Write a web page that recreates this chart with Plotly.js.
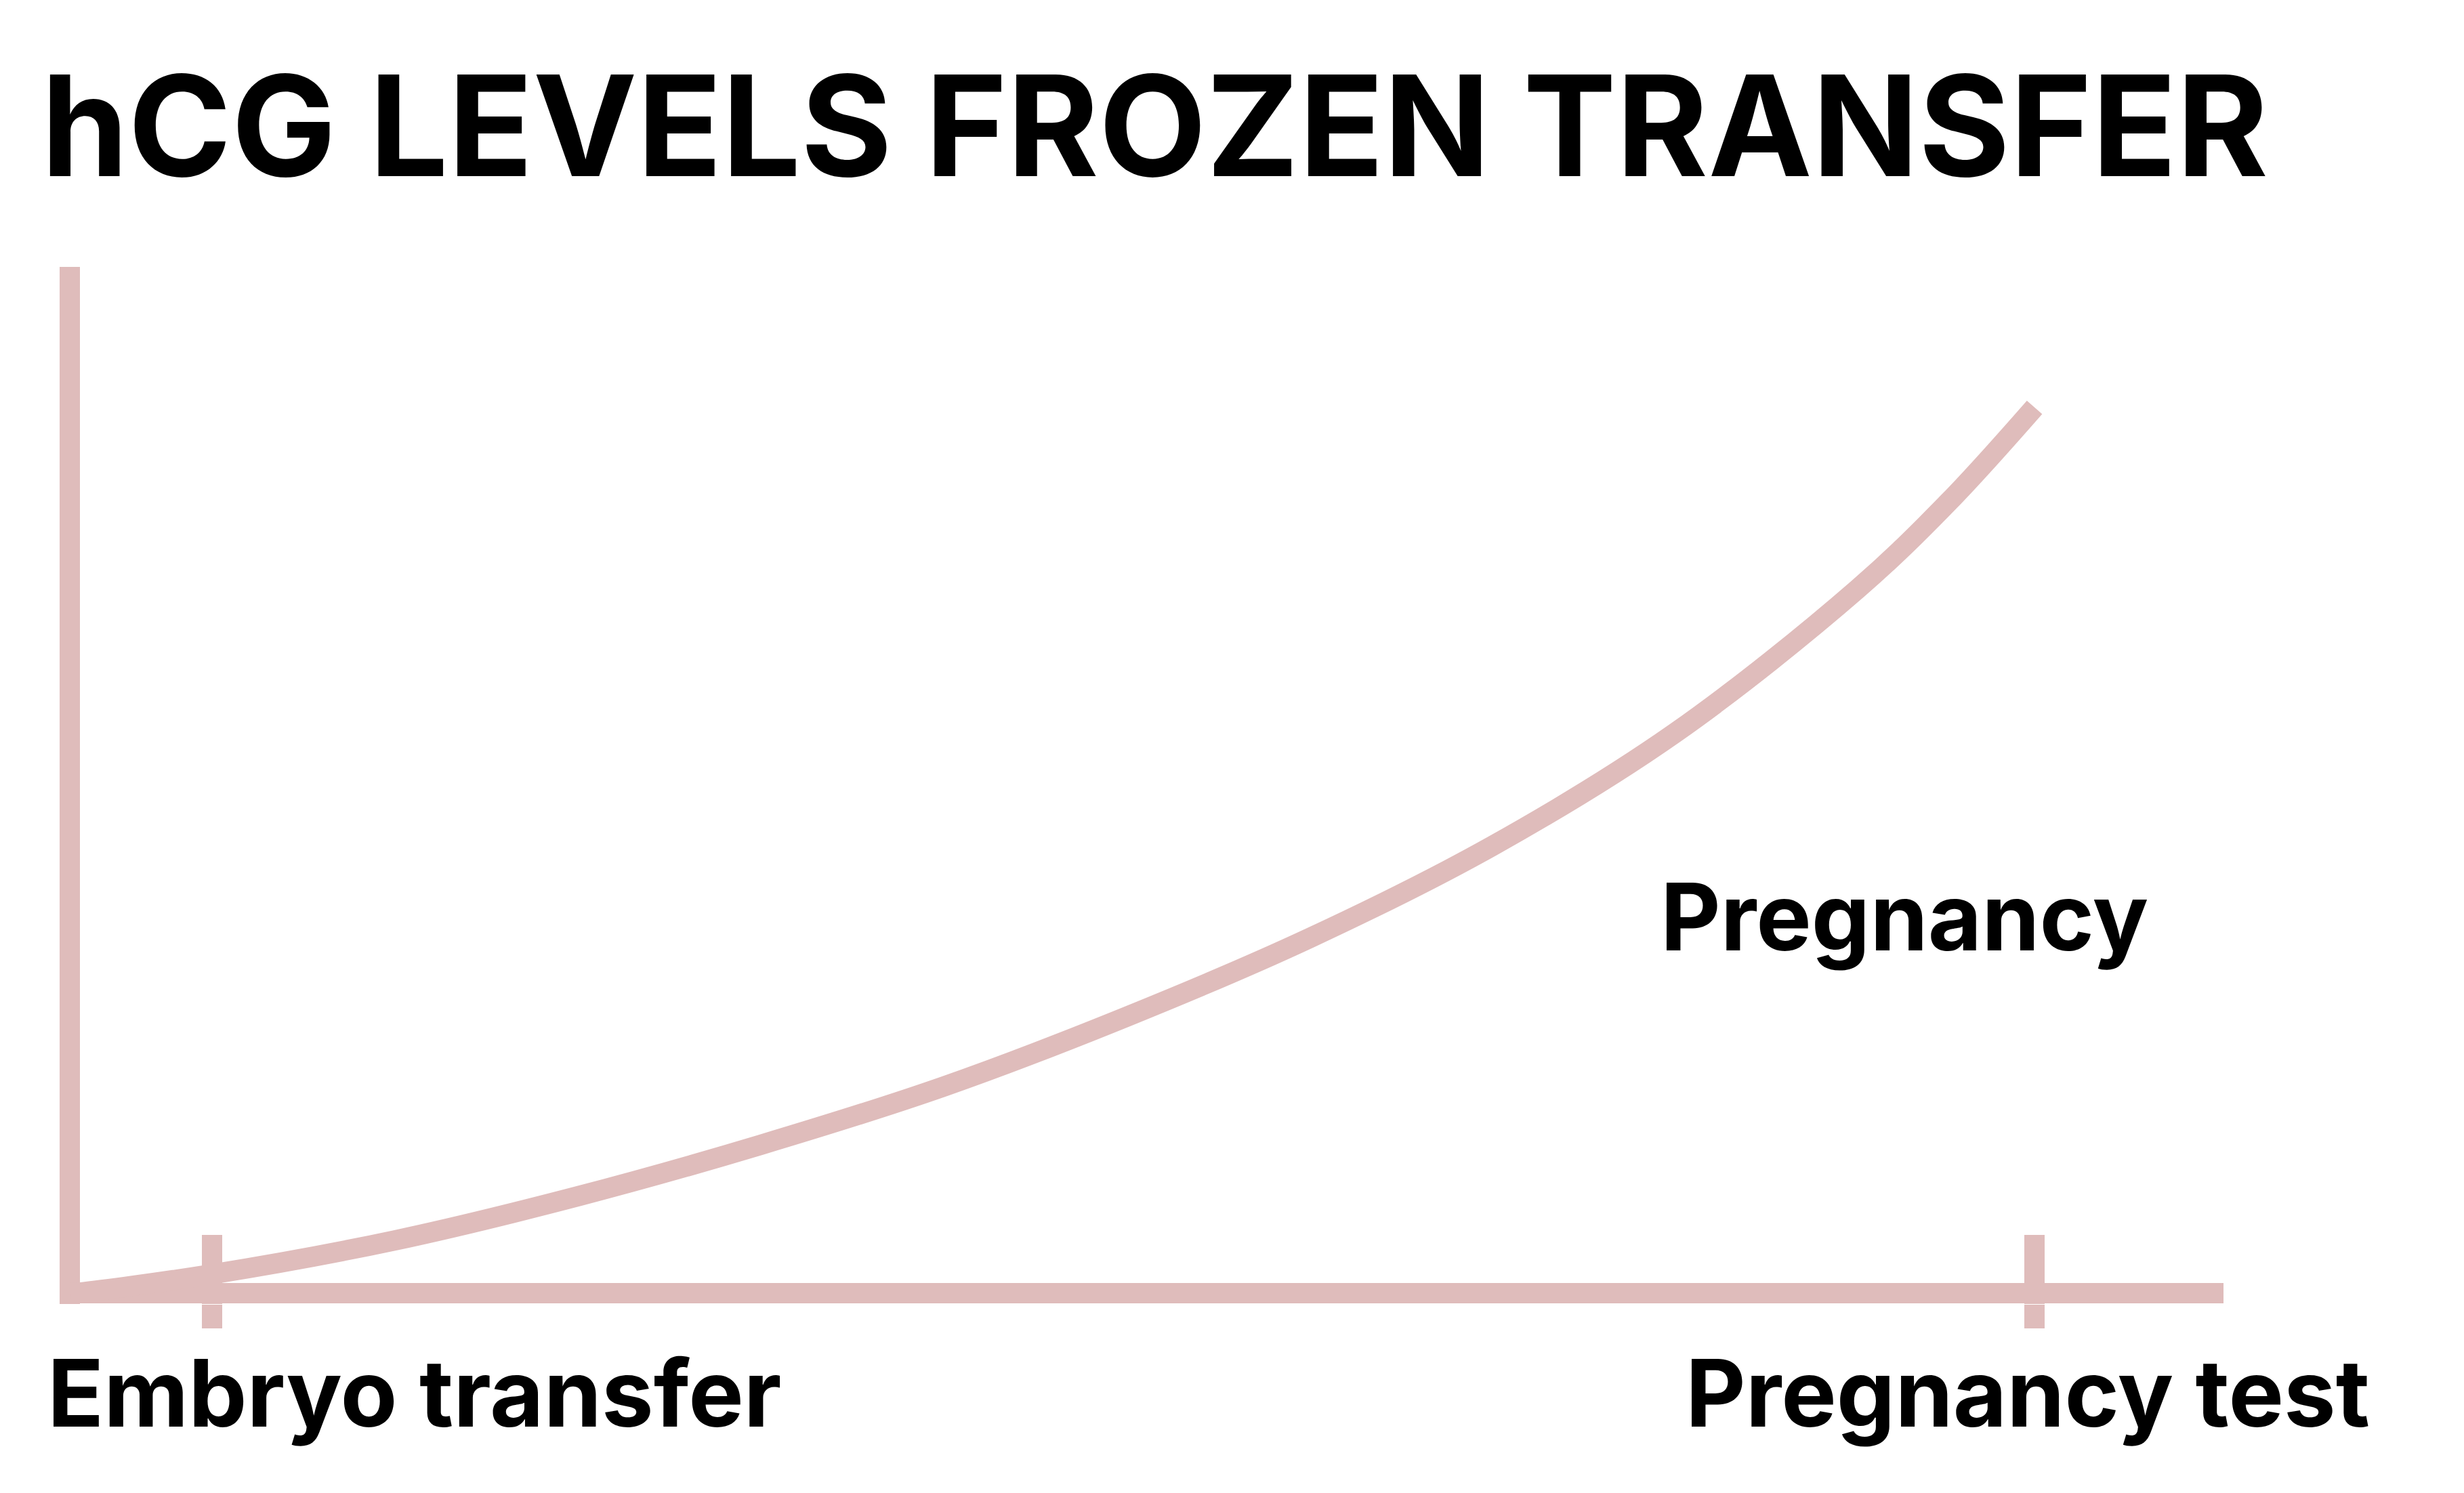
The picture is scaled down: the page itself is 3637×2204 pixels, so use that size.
<!DOCTYPE html>
<html>
<head>
<meta charset="utf-8">
<script src="https://cdn.plot.ly/plotly-3.0.1.min.js"></script>
<style>
  html, body { margin: 0; padding: 0; background: #ffffff; }
  #chart { width: 3637px; height: 2204px; }
</style>
</head>
<body>
<div id="chart"></div>
<script>
// ---- data (arbitrary time units on x, relative hCG level on y) ----
const curveTime  = [0, 0.5, 7, 16, 25, 34, 43, 52, 61, 70, 79, 88, 92.5, 96.7];
const curveLevel = [0, 0.06, 1.76, 4.89, 8.97, 13.73, 19.12, 25.58, 32.85, 41.38, 51.85, 65.2, 73.3, 82.0];
const tickTimes  = [7, 96.7];
const tickLabels = ["Embryo transfer", "Pregnancy test"];
const curveLabel = "Pregnancy";
const chartTitle = "hCG LEVELS FROZEN TRANSFER";

const PINK = "#dfbcbb";
const FONT = "Inter";
const LABEL_SIZE = 137;

const traces = [
  {
    x: curveTime,
    y: curveLevel,
    type: "scatter",
    mode: "lines",
    line: { color: PINK, width: 30, shape: "spline", smoothing: 1 },
    hoverinfo: "skip",
    showlegend: false,
    cliponaxis: false
  },
  // invisible trace to instantiate the overlaying tick axis
  {
    x: tickTimes, y: [0, 0], xaxis: "x2", yaxis: "y",
    type: "scatter", mode: "markers",
    marker: { opacity: 0, size: 1 },
    hoverinfo: "skip", showlegend: false
  }
];

const layout = {
  width: 3637,
  height: 2204,
  autosize: false,
  paper_bgcolor: "#ffffff",
  plot_bgcolor: "#ffffff",
  margin: { l: 88, r: 355, t: 394, b: 279, pad: 0 },
  showlegend: false,
  title: {
    text: chartTitle,
    font: { family: FONT, size: 206, weight: 700, color: "#000000" },
    xref: "container", x: 61 / 3637, xanchor: "left",
    yref: "container", y: 1 - 116 / 2204, yanchor: "top"
  },
  xaxis: {
    range: [-0.5, 106],
    showgrid: false,
    showline: false,
    zeroline: true,
    zerolinecolor: PINK,
    zerolinewidth: 30,
    tickmode: "array",
    tickvals: tickTimes,
    ticktext: tickLabels,
    showticklabels: false,
    ticks: "inside",
    ticklen: 102,
    tickwidth: 30,
    tickcolor: PINK,
    fixedrange: true
  },
  xaxis2: {
    overlaying: "x",
    anchor: "y",
    side: "bottom",
    range: [-0.5, 106],
    showgrid: false,
    showline: false,
    zeroline: false,
    tickmode: "array",
    tickvals: tickTimes,
    showticklabels: false,
    ticks: "outside",
    ticklen: 35,
    tickwidth: 30,
    tickcolor: PINK,
    fixedrange: true
  },
  yaxis: {
    range: [-1, 95],
    showgrid: false,
    showline: false,
    zeroline: true,
    zerolinecolor: PINK,
    zerolinewidth: 30,
    showticklabels: false,
    ticks: "",
    fixedrange: true
  },
  annotations: [
    {
      text: tickLabels[0],
      xref: "x", x: tickTimes[0], xanchor: "left", xshift: -245,
      yref: "paper", y: 0, yanchor: "top", yshift: -46,
      showarrow: false,
      font: { family: FONT, size: LABEL_SIZE, weight: 700, color: "#000000" }
    },
    {
      text: tickLabels[1],
      xref: "x", x: tickTimes[1], xanchor: "center", xshift: -10,
      yref: "paper", y: 0, yanchor: "top", yshift: -46,
      showarrow: false,
      font: { family: FONT, size: LABEL_SIZE, weight: 700, color: "#000000" }
    },
    {
      text: curveLabel,
      xref: "x", x: 90.3, xanchor: "center",
      yref: "y", y: 40.2, yanchor: "top",
      showarrow: false,
      font: { family: FONT, size: LABEL_SIZE, weight: 700, color: "#000000" }
    }
  ]
};

Plotly.newPlot("chart", traces, layout, { staticPlot: true, displayModeBar: false });
</script>
</body>
</html>
